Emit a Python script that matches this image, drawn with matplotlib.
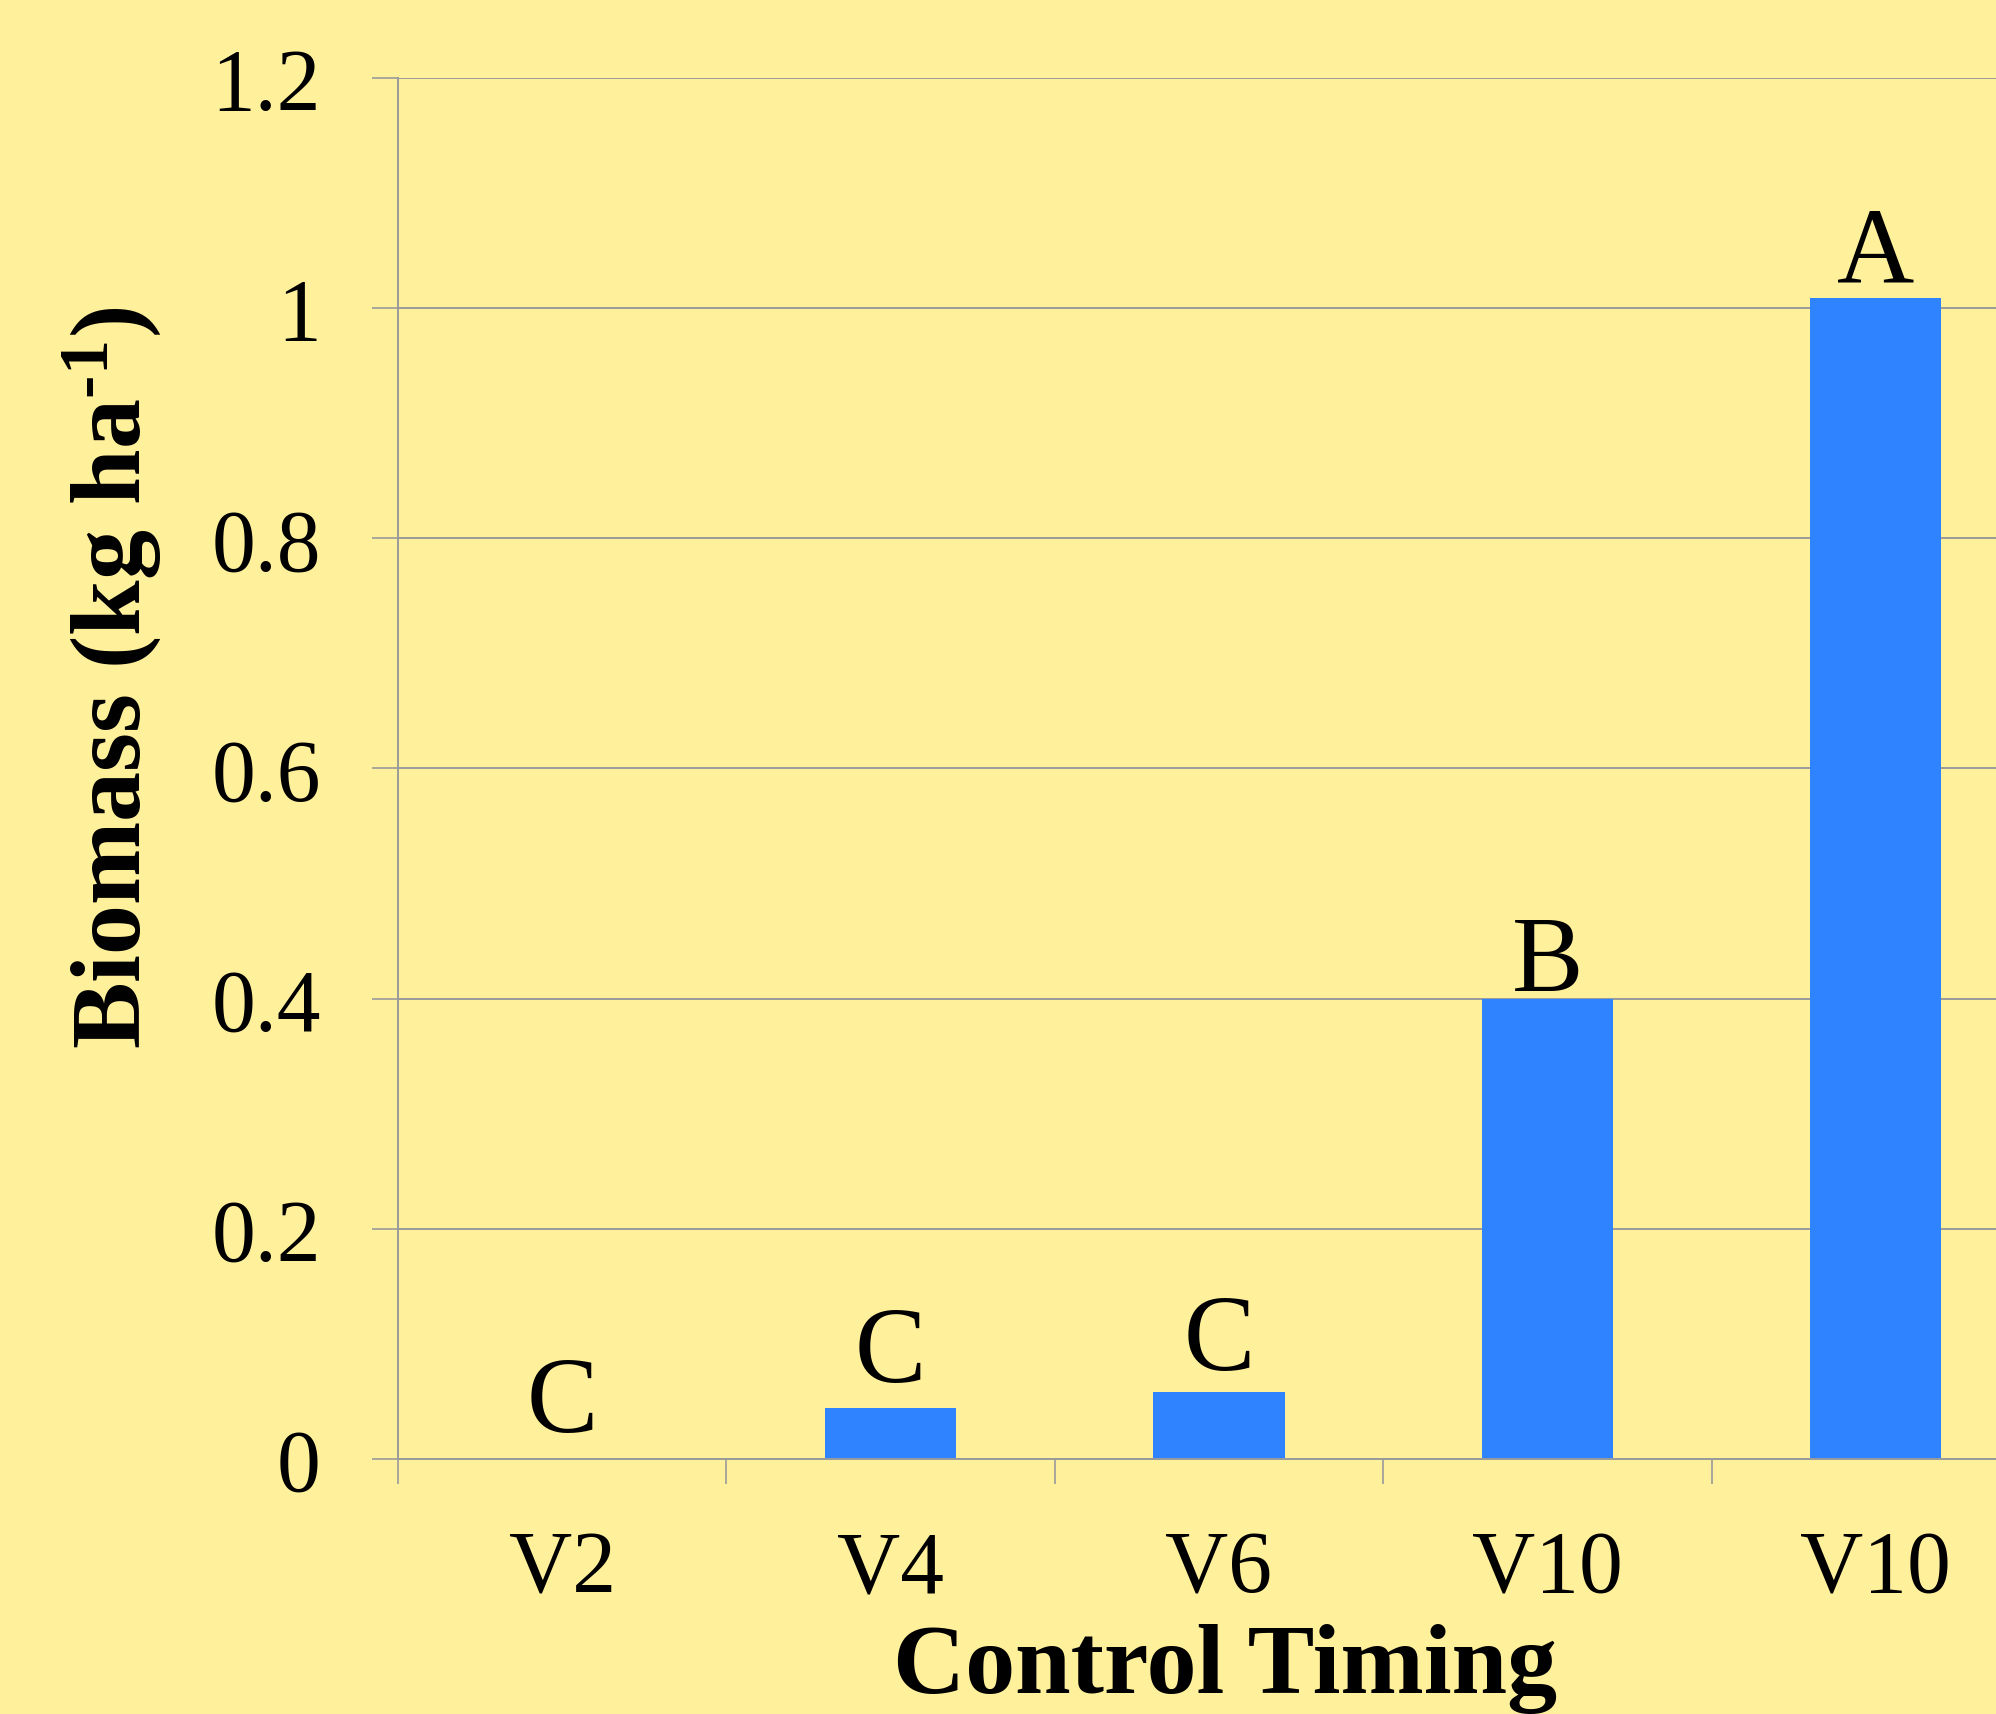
import matplotlib
matplotlib.use("Agg")
import matplotlib.pyplot as plt
import numpy as np

# ---- data ----
categories = ["V2", "V4", "V6", "V10", "V10"]
biomass = [0.0, 0.044, 0.058, 0.40, 1.009]
letters = ["C", "C", "C", "B", "A"]
y_ticks = [0, 0.2, 0.4, 0.6, 0.8, 1.0, 1.2]
y_tick_labels = ["0", "0.2", "0.4", "0.6", "0.8", "1", "1.2"]

# ---- style ----
BG = "#FFF09B"
BAR = "#2F83FF"
GRID = "#9A9A9A"
FONT = "Liberation Serif"
letter_gap_pt = [20, 20, 16.5, 6, 12]

plt.rcParams["font.family"] = [FONT, "DejaVu Serif"]
plt.rcParams["mathtext.fontset"] = "custom"
plt.rcParams["mathtext.rm"] = "Liberation Serif:bold"
plt.rcParams["mathtext.bf"] = "Liberation Serif:bold"
plt.rcParams["mathtext.it"] = "Liberation Serif:bold"

W, H = 1996, 1715
fig = plt.figure(figsize=(W / 100, H / 100), dpi=100, facecolor=BG)
ax = fig.add_axes([398 / W, 1 - 1460 / H, 1642 / W, (1460 - 79) / H])
ax.set_facecolor(BG)

x = np.arange(len(categories))
bars = ax.bar(x, biomass, width=0.4, color=BAR, linewidth=0, zorder=3)

ax.set_xlim(-0.5, len(categories) - 0.5)
ax.set_ylim(0, 1.2)

# gridlines
ax.set_yticks(y_ticks)
ax.set_yticklabels(y_tick_labels)
ax.yaxis.grid(True, color=GRID, linewidth=1.4, zorder=0)
ax.xaxis.grid(False)

# x ticks at category boundaries, labels at centres
ax.set_xticks(np.arange(-0.5, len(categories) + 0.5, 1.0))
ax.set_xticklabels([])
ax.set_xticks(x, minor=True)
ax.set_xticklabels(categories, minor=True)
ax.tick_params(axis="x", which="major", length=18, width=1.2, color=GRID, direction="out")
ax.tick_params(axis="x", which="minor", length=0, pad=51, labelsize=63)
ax.tick_params(axis="y", which="major", length=18.5, width=1.2, color=GRID,
               direction="out", pad=37, labelsize=63)

for s in ["top", "right"]:
    ax.spines[s].set_visible(False)
for s in ["left", "bottom"]:
    ax.spines[s].set_color(GRID)
    ax.spines[s].set_linewidth(1.4)
    ax.spines[s].set_zorder(4)

# significance letters
for xi, v, lab, gap in zip(x, biomass, letters, letter_gap_pt):
    ax.annotate(lab, (xi, v), xytext=(0, gap), textcoords="offset points",
                ha="center", va="baseline", fontsize=77, color="black",
                annotation_clip=False, zorder=5)

# axis titles
fig.text(1225 / W, 1 - 1693 / H, "Control Timing", ha="center", va="baseline",
         fontsize=72, fontweight="bold")
fig.text(112 / W, 1 - 678 / H, "Biomass (kg ha$^{\\mathregular{\u20101}}$)", rotation=90,
         ha="center", va="center", fontsize=72, fontweight="bold")

fig.savefig("out.png", dpi=100, facecolor=BG)
